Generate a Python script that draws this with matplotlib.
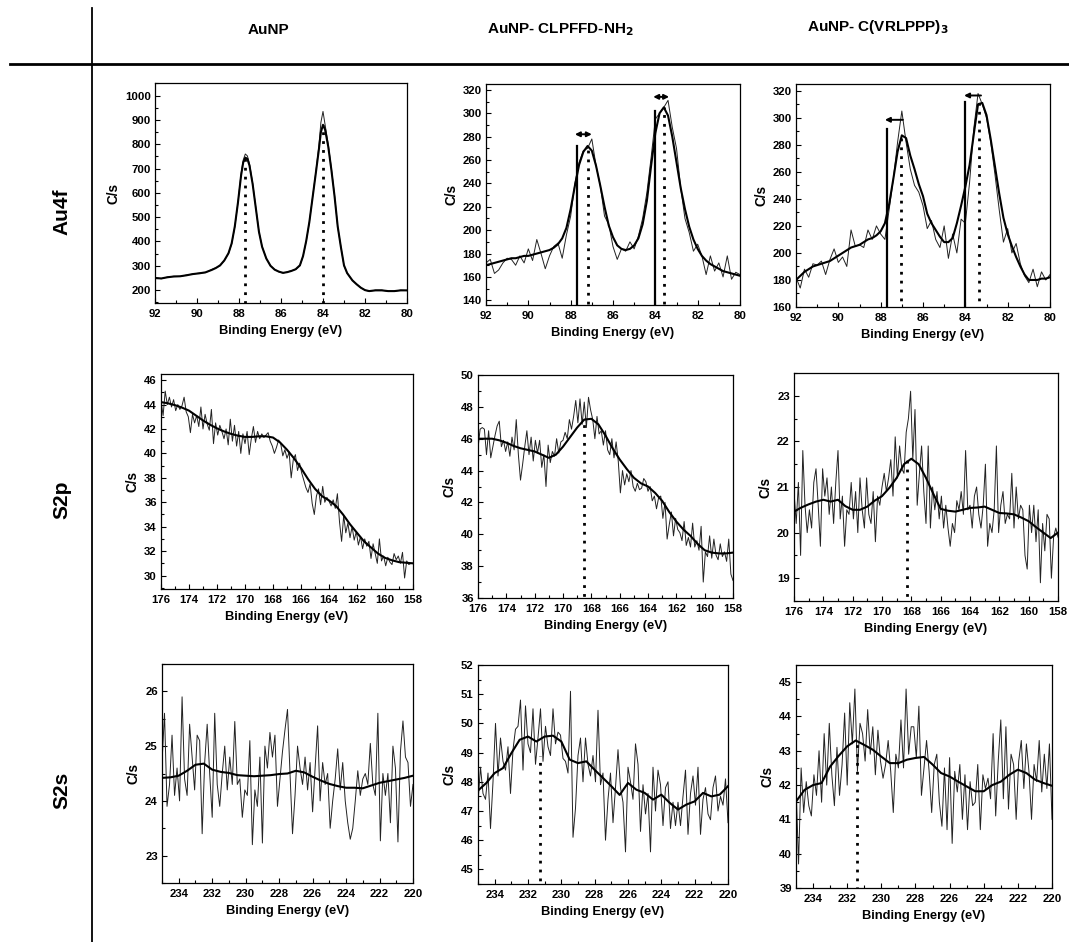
import numpy as np
import matplotlib
matplotlib.use("Agg")
import matplotlib.pyplot as plt
from matplotlib.ticker import MultipleLocator, AutoMinorLocator

plt.rcParams['font.family'] = ['Liberation Sans', 'DejaVu Sans']
plt.rcParams['font.weight'] = 'bold'

# ---------------- data ----------------
col_titles = ["AuNP", "AuNP- CLPFFD-NH$_2$", "AuNP- C(VRLPPP)$_3$"]
row_titles = ["Au4f", "S2p", "S2s"]

# Au4f, AuNP
au1_x = [92.0, 91.7, 91.4, 91.1, 90.8, 90.5, 90.2, 89.9, 89.6, 89.3, 89.1, 88.9, 88.7, 88.5, 88.35,
         88.2, 88.05, 87.9, 87.8, 87.7, 87.6, 87.5, 87.35, 87.2, 87.05, 86.9, 86.7, 86.5, 86.3, 86.1,
         85.9, 85.7, 85.5, 85.3, 85.1, 84.95, 84.8, 84.65, 84.5, 84.35, 84.2, 84.1, 84.0, 83.9, 83.75,
         83.6, 83.45, 83.3, 83.15, 83.0, 82.85, 82.6, 82.4, 82.2, 82.0, 81.8, 81.5, 81.2, 80.9, 80.6,
         80.3, 80.0]
au1_raw = [250, 247, 254, 257, 256, 262, 266, 270, 272, 285, 292, 300, 322, 350, 390,
           460, 560, 680, 735, 760, 752, 720, 640, 540, 440, 380, 330, 300, 285, 275,
           270, 275, 280, 285, 300, 340, 400, 480, 580, 680, 790, 890, 935, 880, 800,
           700, 590, 460, 380, 300, 270, 240, 225, 210, 200, 195, 200, 200, 195, 195,
           200, 198]
au1_fit = [250, 248, 253, 256, 257, 261, 266, 269, 273, 283, 291, 302, 322, 352, 392,
           462, 560, 672, 725, 745, 740, 712, 636, 538, 440, 378, 330, 300, 284, 276,
           271, 274, 279, 286, 302, 340, 402, 480, 578, 676, 776, 850, 880, 860, 790,
           694, 586, 462, 378, 302, 270, 240, 224, 210, 200, 196, 199, 199, 196, 196,
           199, 199]
au1_peaks = [87.7, 84.0]
au1_peak_tops = [745, 880]

# Au4f, CLPFFD (0.2 eV grid 92 -> 80)
au2_raw = [172, 175, 163, 166, 172, 176, 175, 170, 178, 172, 184, 174, 192, 180, 167, 178, 186, 189,
           176, 196, 212, 240, 258, 268, 270, 278, 255, 238, 212, 205, 186, 175, 184, 182, 190, 184,
           195, 210, 232, 262, 295, 300, 305, 311, 288, 270, 236, 210, 198, 182, 188, 178, 162, 178,
           165, 172, 160, 178, 158, 164, 162]
au2_fit = [170, 171, 172, 173, 174, 175, 176, 176, 177, 178, 178, 179, 180, 181, 182, 183, 185, 188,
           193, 202, 218, 238, 256, 267, 272, 268, 255, 238, 220, 204, 194, 187, 184, 183, 184, 187,
           193, 205, 225, 255, 283, 300, 305, 298, 280, 258, 236, 218, 203, 192, 184, 178, 174, 171,
           169, 167, 165, 164, 163, 162, 161]
au2_ref = [87.7, 84.0]          # solid reference lines
au2_ref_tops = [272, 302]
au2_peaks = [87.2, 83.6]        # dotted peak positions
au2_peak_tops = [270, 305]
au2_arrow_y = [282, 314]
au2_arrow_x0 = [87.8, 84.1]
au2_arrow_x1 = [87.0, 83.35]

# Au4f, VRLPPP (0.2 eV grid 92 -> 80)
au3_raw = [182, 174, 188, 182, 192, 191, 194, 184, 195, 203, 193, 197, 190, 217, 205, 206, 204, 217,
           210, 220, 214, 210, 232, 255, 282, 305, 282, 262, 250, 245, 235, 218, 224, 210, 204, 220,
           196, 214, 200, 225, 222, 252, 292, 318, 310, 300, 282, 258, 232, 208, 218, 200, 207, 192,
           183, 178, 188, 175, 186, 180, 184]
au3_fit = [180, 183, 186, 188, 190, 191, 192, 193, 194, 196, 198, 200, 202, 204, 205, 206, 208, 210,
           211, 213, 216, 222, 236, 255, 275, 287, 285, 272, 262, 251, 242, 229, 222, 217, 212, 208,
           208, 211, 222, 235, 249, 265, 288, 310, 311, 302, 284, 264, 244, 226, 214, 205, 197, 190,
           184, 180, 180, 180, 181, 181, 182]
au3_ref = [87.7, 84.0]
au3_ref_tops = [292, 312]
au3_peaks = [87.05, 83.35]
au3_peak_tops = [287, 312]
au3_arrow_y = [298.5, 316.5]
au3_arrow_x0 = [87.8, 84.06]   # arrow head (left)
au3_arrow_x1 = [86.95, 83.26]  # arrow tail (right)

# S2p, AuNP (0.15 eV grid 176 -> 158)
s2p1_raw = [44.3, 43.1, 45.1, 44.0, 44.6, 43.8, 44.4, 43.5, 44.0, 43.6,
            43.9, 44.6, 43.4, 43.0, 41.7, 43.2, 42.5, 43.1, 42.2, 43.8,
            42.0, 43.2, 42.4, 41.9, 43.6, 40.8, 42.5, 41.5, 42.3, 41.8,
            41.2, 42.0, 40.7, 42.8, 41.0, 42.3, 40.6, 41.8, 40.0, 41.6,
            40.8, 41.8, 39.9, 41.2, 42.2, 40.9, 41.8, 41.2, 41.6, 41.3,
            41.5, 41.7, 41.0, 40.6, 40.0, 40.5, 41.1, 40.8, 39.8, 40.3,
            39.6, 40.1, 38.0, 39.5, 39.9, 38.6, 39.2, 38.4, 37.8, 37.2,
            36.8, 37.5, 35.9, 35.0, 36.5, 37.1, 35.8, 37.3, 36.0, 36.4,
            36.1, 35.7, 36.2, 35.5, 36.7, 34.4, 32.8, 34.9, 33.5, 34.3,
            33.1, 34.0, 32.9, 33.6, 32.5, 33.2, 32.2, 33.0, 32.4, 32.8,
            31.4, 32.6, 31.8, 31.0, 33.0, 31.2, 31.6, 30.8, 31.5, 31.1,
            30.9, 31.8, 31.3, 31.6, 31.0, 31.9, 29.8, 31.2, 30.9, 31.0, 31.0]
s2p1_fit = [44.2, 44.1, 43.95, 43.75, 43.5, 43.1, 42.7, 42.35, 42.05, 41.8, 41.6, 41.45, 41.35,
            41.35, 41.4, 41.4, 41.3, 40.9, 40.3, 39.6, 38.8, 37.9, 37.1, 36.5, 36.15, 35.7, 35.0,
            34.2, 33.5, 32.8, 32.3, 31.8, 31.45, 31.25, 31.1, 31.05, 31.0]

# S2p, CLPFFD
s2p2_raw = [45.4, 46.6, 46.7, 46.6, 45.0, 46.5, 44.8, 45.5, 46.2, 46.8,
            47.1, 45.5, 45.9, 45.2, 45.8, 44.9, 46.1, 45.3, 47.2, 45.0,
            43.4, 44.4, 45.5, 46.5, 45.0, 46.1, 44.6, 45.9, 45.1, 45.9,
            44.2, 45.0, 43.0, 45.6, 44.5, 45.2, 44.9, 46.0, 45.1, 45.8,
            45.9, 46.4, 46.0, 47.2, 46.6, 47.4, 48.4, 47.0, 48.5, 46.9,
            48.3, 46.7, 48.6, 47.8, 47.2, 46.0, 47.4, 46.3, 46.5, 45.6,
            46.5, 45.3, 45.0, 46.0, 44.8, 45.8, 44.6, 42.6, 44.0, 43.1,
            43.8, 43.3, 44.0, 43.0, 42.7, 43.2, 42.8, 42.9, 43.5, 43.3,
            42.7, 43.0, 42.1, 42.4, 41.6, 42.3, 42.4, 41.0, 42.0, 39.7,
            40.6, 41.4, 39.9, 41.0, 40.3, 40.1, 39.6, 40.8, 39.3, 39.8,
            39.2, 40.7, 39.2, 39.6, 39.0, 40.5, 37.0, 38.9, 38.6, 39.9,
            38.5, 39.7, 38.7, 38.4, 39.4, 38.6, 38.9, 38.3, 39.7, 37.5, 37.1]
s2p2_fit = [46.0, 46.0, 46.0, 45.9, 45.75, 45.55, 45.4, 45.3, 45.2, 45.0, 44.8, 45.0, 45.5,
            46.1, 46.7, 47.2, 47.25, 46.9, 46.2, 45.4, 44.7, 44.1, 43.55, 43.2, 43.0, 42.6, 42.1,
            41.4, 40.8, 40.3, 39.9, 39.4, 39.0, 38.85, 38.8, 38.8, 38.85]
s2p2_peak = 168.55
s2p2_peak_top = 47.2

# S2p, VRLPPP
s2p3_raw = [20.9, 20.2, 21.1, 19.5, 21.8, 20.6, 20.0, 20.5, 20.1, 21.1,
            21.4, 20.6, 19.7, 21.4, 20.8, 21.2, 20.4, 21.0, 20.2, 21.1,
            21.8, 20.3, 20.8, 19.7, 20.5, 20.4, 21.1, 20.3, 20.9, 20.0,
            21.2, 20.5, 20.1, 21.2, 20.4, 20.2, 20.9, 19.8, 20.8, 20.6,
            21.0, 21.3, 20.9, 21.2, 21.6, 20.8, 22.1, 21.2, 21.9, 21.4,
            21.3, 22.2, 22.5, 23.1, 21.6, 22.7, 20.6, 21.3, 21.9, 20.9,
            20.2, 21.9, 20.1, 21.0, 20.5, 20.9, 20.3, 20.8, 20.1, 20.6,
            20.1, 19.7, 20.2, 20.0, 20.7, 20.5, 20.9, 20.4, 21.8, 20.5,
            20.6, 20.1, 20.8, 21.0, 20.4, 20.1, 20.6, 21.5, 19.7, 20.2,
            20.0, 20.5, 21.9, 20.0, 20.6, 20.9, 20.2, 20.4, 20.3, 21.3,
            20.1, 21.0, 20.3, 20.6, 20.5, 19.5, 19.2, 20.6, 20.0, 20.6,
            19.8, 20.5, 18.9, 20.2, 19.6, 20.4, 20.3, 19.0, 19.9, 20.1, 19.9]
s2p3_fit = [20.46, 20.55, 20.62, 20.68, 20.72, 20.68, 20.72, 20.58, 20.5, 20.5, 20.57, 20.7, 20.8,
            20.98, 21.2, 21.5, 21.62, 21.5, 21.2, 20.85, 20.52, 20.48, 20.46, 20.5, 20.54, 20.55,
            20.57, 20.5, 20.43, 20.42, 20.4, 20.33, 20.25, 20.12, 20.0, 19.88, 20.0]
s2p3_peak = 168.3
s2p3_peak_top = 21.6

# S2s, AuNP (0.15 eV grid 235 -> 220)
s2s1_raw = [24.7, 25.6, 23.9, 24.3, 25.2, 24.1, 24.6, 24.0, 25.9, 24.4,
            24.1, 25.4, 24.8, 24.2, 25.2, 25.1, 23.4, 24.7, 25.4, 24.5,
            23.7, 25.6, 24.3, 23.9, 24.5, 25.0, 24.2, 24.8, 24.3, 25.45,
            24.3, 24.4, 23.7, 24.2, 24.1, 25.1, 23.2, 24.2, 23.9, 24.8,
            23.23, 25.0, 24.6, 25.25, 24.8, 25.2, 23.9, 24.4, 24.9, 25.3,
            25.67, 24.5, 23.4, 24.1, 25.0, 24.6, 24.3, 24.8, 24.2, 24.7,
            23.8, 24.6, 25.37, 24.0, 24.7, 24.3, 24.5, 23.5, 24.0, 24.4,
            24.95, 24.2, 24.7, 24.0, 23.6, 23.3, 23.5, 24.0, 24.55, 24.1,
            24.4, 24.5, 24.3, 25.05, 24.3, 24.1, 25.6, 23.27, 24.5, 24.1,
            24.5, 23.6, 25.0, 24.6, 23.25, 24.9, 25.46, 24.8, 24.7, 23.9, 24.3]
s2s1_fit = [24.42, 24.43, 24.46, 24.55, 24.66, 24.68, 24.57, 24.53, 24.51, 24.47, 24.46, 24.45,
            24.46, 24.47, 24.49, 24.5, 24.55, 24.52, 24.44, 24.37, 24.31, 24.27, 24.24, 24.24,
            24.23, 24.28, 24.33, 24.36, 24.39, 24.42, 24.46]

# S2s, CLPFFD
s2s2_raw = [47.3, 48.5, 47.6, 47.4, 48.3, 46.4, 48.0, 50.0, 48.2, 49.5,
            48.7, 48.4, 49.2, 47.6, 49.1, 49.8, 49.9, 50.8, 48.4, 50.6,
            49.3, 49.0, 50.5, 48.6, 49.5, 50.5, 48.7, 49.9, 49.2, 48.9,
            50.5, 49.3, 49.7, 49.6, 48.8, 48.7, 48.3, 51.1, 46.1, 47.1,
            48.9, 49.5, 48.0, 49.5, 48.6, 48.2, 48.9, 48.0, 50.45, 47.9,
            48.3, 46.0, 47.4, 48.3, 46.6, 47.8, 49.1, 47.8, 47.3, 45.6,
            48.5, 48.0, 47.4, 49.3, 48.6, 46.3, 47.9, 46.9, 47.6, 45.6,
            48.5, 47.0, 48.4, 47.9, 46.5, 47.8, 48.0, 46.4, 47.3, 46.5,
            47.3, 46.5, 47.5, 48.4, 46.2, 47.6, 48.2, 47.2, 48.5, 46.2,
            47.4, 47.8, 46.9, 46.7, 47.8, 48.2, 47.0, 47.5, 47.2, 48.1, 46.6]
s2s2_fit = [47.7, 47.96, 48.3, 48.47, 48.98, 49.44, 49.55, 49.38, 49.55, 49.58, 49.38, 48.76,
            48.64, 48.7, 48.41, 48.13, 47.85, 47.55, 47.96, 47.73, 47.62, 47.39, 47.56, 47.28,
            47.05, 47.22, 47.33, 47.62, 47.5, 47.56, 47.85]
s2s2_peak = 231.3
s2s2_peak_top = 48.9

# S2s, VRLPPP
s2s3_raw = [42.0, 39.7, 42.5, 41.2, 42.1, 41.4, 41.1, 42.3, 41.7, 43.0,
            41.5, 43.5, 42.0, 43.8, 42.3, 41.4, 43.1, 41.7, 42.6, 44.1,
            42.0, 44.4, 43.2, 44.8, 42.4, 43.8, 43.5, 42.7, 44.2, 42.9,
            43.7, 42.3, 43.6, 42.7, 42.2, 42.6, 43.3, 42.4, 41.2, 42.9,
            42.5, 43.9, 42.5, 44.8, 42.9, 43.7, 43.7, 42.8, 44.3, 41.7,
            42.5, 43.3, 42.4, 41.2, 42.6, 42.9, 41.5, 40.8, 42.5, 40.7,
            42.8, 40.3, 42.4, 41.8, 42.6, 41.0, 42.3, 40.7, 42.1, 41.4,
            41.5, 42.6, 40.7, 42.3, 41.9, 42.2, 41.6, 43.5, 41.1, 42.7,
            43.9, 41.6, 43.7, 41.3, 42.9, 42.6, 41.0, 42.7, 43.3, 41.9,
            43.2, 42.4, 41.0, 42.6, 42.1, 43.3, 41.8, 42.9, 41.9, 43.2, 41.0]
s2s3_fit = [41.52, 41.86, 42.0, 42.06, 42.54, 42.85, 43.13, 43.3, 43.17, 43.03, 42.83, 42.64,
            42.64, 42.74, 42.79, 42.82, 42.6, 42.35, 42.25, 42.1, 41.96, 41.82, 41.82, 42.0, 42.1,
            42.3, 42.45, 42.35, 42.16, 42.06, 41.98]
s2s3_peak = 231.4
s2s3_peak_top = 43.2

# axis settings
au_range = (92, 80)
s2p_range = (176, 158)
s2s_range = (235, 220)

# ---------------- figure ----------------
fig = plt.figure(figsize=(10.69, 9.42), dpi=100)
W, H = 1069, 942

def add_ax(l, r, t, b):
    return fig.add_axes([l / W, 1 - b / H, (r - l) / W, (b - t) / H])

boxes = [
    [(155, 407, 83, 303), (486, 740, 84, 305), (796, 1050, 84, 307)],
    [(161, 413, 374, 589), (478, 733, 375, 598), (794, 1058, 373, 601)],
    [(162, 413, 664, 883), (478, 728, 665, 884), (796, 1052, 665, 888)],
]

TICK_FS = 8.2
LAB_FS = 9.3

def style(ax, xr, ylim, ymaj, xmaj=2):
    ax.set_xlim(*xr)
    ax.set_ylim(*ylim)
    ax.xaxis.set_major_locator(MultipleLocator(xmaj))
    ax.xaxis.set_minor_locator(AutoMinorLocator(2))
    ax.yaxis.set_major_locator(MultipleLocator(ymaj))
    ax.yaxis.set_minor_locator(AutoMinorLocator(2))
    ax.tick_params(which='both', direction='in', top=False, right=False,
                   labelsize=TICK_FS, width=0.8)
    ax.tick_params(axis='x', pad=4.5)
    ax.tick_params(axis='y', pad=3)
    ax.tick_params(which='major', length=3.5)
    ax.tick_params(which='minor', length=2)
    for lab in ax.get_xticklabels() + ax.get_yticklabels():
        lab.set_fontweight('bold')
    for s in ax.spines.values():
        s.set_linewidth(0.9)
    ax.set_xlabel("Binding Energy (eV)", fontsize=LAB_FS, fontweight='bold', labelpad=4)
    ax.set_ylabel("C/s", fontsize=LAB_FS + 0.5, fontweight='bold', labelpad=3)

RAW = dict(color='#222222', lw=0.7)
FIT = dict(color='black', lw=1.5)
DOT = dict(color='black', lw=2.0, linestyle=(0, (1, 2.2)))

def grid(xr, n):
    return np.linspace(xr[0], xr[1], n)

# Row 1 -------------------------------------------------
ax = add_ax(*boxes[0][0])
ax.plot(au1_x, au1_raw, **RAW)
ax.plot(au1_x, au1_fit, **FIT)
for xp, yt in zip(au1_peaks, au1_peak_tops):
    ax.plot([xp, xp], [0, yt], **DOT)
style(ax, au_range, (147, 1052), 100)

ax = add_ax(*boxes[0][1])
ax.plot(grid(au_range, len(au2_raw)), au2_raw, **RAW)
ax.plot(grid(au_range, len(au2_fit)), au2_fit, **FIT)
for xp, yt in zip(au2_ref, au2_ref_tops):
    ax.plot([xp, xp], [0, yt], color='black', lw=1.6)
for xp, yt in zip(au2_peaks, au2_peak_tops):
    ax.plot([xp, xp], [0, yt], **DOT)
for y, x0, x1 in zip(au2_arrow_y, au2_arrow_x0, au2_arrow_x1):
    ax.annotate("", xy=(x0, y), xytext=(x1, y),
                arrowprops=dict(arrowstyle='<|-|>', color='black', lw=1.4,
                                mutation_scale=7, shrinkA=0, shrinkB=0))
style(ax, au_range, (136, 325), 20)

ax = add_ax(*boxes[0][2])
ax.plot(grid(au_range, len(au3_raw)), au3_raw, **RAW)
ax.plot(grid(au_range, len(au3_fit)), au3_fit, **FIT)
for xp, yt in zip(au3_ref, au3_ref_tops):
    ax.plot([xp, xp], [0, yt], color='black', lw=1.6)
for xp, yt in zip(au3_peaks, au3_peak_tops):
    ax.plot([xp, xp], [0, yt], **DOT)
for y, x0, x1 in zip(au3_arrow_y, au3_arrow_x0, au3_arrow_x1):
    ax.annotate("", xy=(x0, y), xytext=(x1, y),
                arrowprops=dict(arrowstyle='-|>', color='black', lw=1.4,
                                mutation_scale=7, shrinkA=0, shrinkB=0))
style(ax, au_range, (160, 325), 20)

# Row 2 -------------------------------------------------
ax = add_ax(*boxes[1][0])
ax.plot(grid(s2p_range, len(s2p1_raw)), s2p1_raw, **RAW)
ax.plot(grid(s2p_range, len(s2p1_fit)), s2p1_fit, **FIT)
style(ax, s2p_range, (28.9, 46.5), 2)

ax = add_ax(*boxes[1][1])
ax.plot(grid(s2p_range, len(s2p2_raw)), s2p2_raw, **RAW)
ax.plot(grid(s2p_range, len(s2p2_fit)), s2p2_fit, **FIT)
ax.plot([s2p2_peak, s2p2_peak], [0, s2p2_peak_top], **DOT)
style(ax, s2p_range, (36, 50), 2)
# lift the bottom y tick label slightly so it clears the first x tick label
ax.get_yticklabels()[0].set_verticalalignment('bottom')

ax = add_ax(*boxes[1][2])
ax.plot(grid(s2p_range, len(s2p3_raw)), s2p3_raw, **RAW)
ax.plot(grid(s2p_range, len(s2p3_fit)), s2p3_fit, **FIT)
ax.plot([s2p3_peak, s2p3_peak], [0, s2p3_peak_top], **DOT)
style(ax, s2p_range, (18.5, 23.5), 1)

# Row 3 -------------------------------------------------
ax = add_ax(*boxes[2][0])
ax.plot(grid(s2s_range, len(s2s1_raw)), s2s1_raw, **RAW)
ax.plot(grid(s2s_range, len(s2s1_fit)), s2s1_fit, **FIT)
style(ax, s2s_range, (22.5, 26.5), 1)

ax = add_ax(*boxes[2][1])
ax.plot(grid(s2s_range, len(s2s2_raw)), s2s2_raw, **RAW)
ax.plot(grid(s2s_range, len(s2s2_fit)), s2s2_fit, **FIT)
ax.plot([s2s2_peak, s2s2_peak], [0, s2s2_peak_top], **DOT)
style(ax, s2s_range, (44.5, 52), 1)

ax = add_ax(*boxes[2][2])
ax.plot(grid(s2s_range, len(s2s3_raw)), s2s3_raw, **RAW)
ax.plot(grid(s2s_range, len(s2s3_fit)), s2s3_fit, **FIT)
ax.plot([s2s3_peak, s2s3_peak], [0, s2s3_peak_top], **DOT)
style(ax, s2s_range, (39, 45.5), 1)

# ---------------- table decoration ----------------
fig.add_artist(plt.Line2D([92 / W, 92 / W], [0.0, 1 - 8 / H], color='black', lw=1.3,
                          transform=fig.transFigure))
fig.add_artist(plt.Line2D([10 / W, 1.0], [1 - 64 / H, 1 - 64 / H], color='black', lw=2.0,
                          transform=fig.transFigure))

col_x = [268, 560, 878]
col_y = [30, 30, 27]
for t, cx, cy in zip(col_titles, col_x, col_y):
    fig.text(cx / W, 1 - cy / H, t, ha='center', va='center', fontsize=11, fontweight='bold')

row_y = [212, 500, 790]
for t, ry in zip(row_titles, row_y):
    fig.text(62 / W, 1 - ry / H, t, ha='center', va='center', rotation=90,
             fontsize=15, fontweight='bold')

fig.savefig("out.png", dpi=100)
